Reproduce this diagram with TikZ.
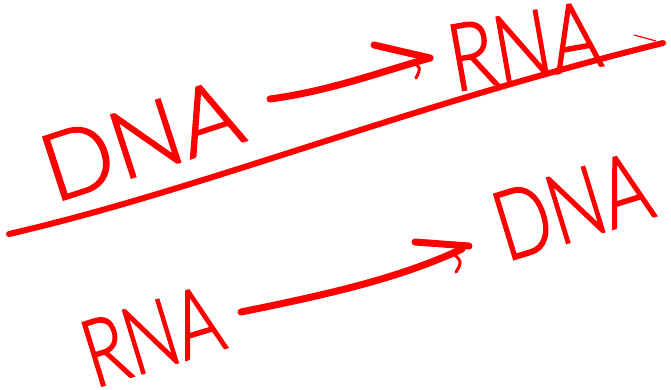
\documentclass[tikz,border=0pt]{standalone}
\usepackage{fontspec}
\newfontfamily\handfont{Lato Light}[FakeBold=2]
\definecolor{ink}{RGB}{255,0,0}
\tikzset{
  pen/.style={draw=ink, line width=7pt, line cap=round, line join=round},
  thinpen/.style={draw=ink, line width=3pt, line cap=round},
  word/.style={text=ink, inner sep=0pt, font=\handfont}
}
\begin{document}
\begin{tikzpicture}[x=1pt,y=-1pt]
\useasboundingbox (0,0) rectangle (671,389);
% words
\node[word, rotate=18] (dnaA) at (141,140) {\resizebox{204pt}{66pt}{DNA}};
\node[word, rotate=10] (rnaA) at (524,46) {\resizebox{152pt}{66pt}{RNA}};
\node[word, rotate=17] (rnaB) at (152,336) {\resizebox{140pt}{66pt}{RNA}};
\node[word, rotate=17] (dnaB) at (572,206) {\resizebox{158pt}{68pt}{DNA}};
% arrow endpoints
\coordinate (a1s) at (270,99);
\coordinate (a1e) at (430,58);
\coordinate (a1b) at (374,45);
\coordinate (a1h) at (413,62);
\coordinate (a1t) at (416,78);
\coordinate (a2s) at (241,312);
\coordinate (a2e) at (469,246);
\coordinate (a2b) at (415,242);
\coordinate (a2h) at (453,253);
\coordinate (a2t) at (456,272);
% dividing line
\coordinate (ls) at (9,234);
\coordinate (le) at (663,43);
\coordinate (ts) at (634,35);
\coordinate (te) at (656,41);
\draw[pen, line width=6pt] (ls) .. controls (200,190) and (400,108) .. (le);
\draw[draw=ink, line width=1.2pt] (ts) -- (te);
% top arrow
\draw[pen] (a1s) .. controls (330,91) and (380,72) .. (a1e);
\draw[pen] (a1b) -- (a1e);
\draw[thinpen] (a1h) .. controls (421,68) .. (a1t);
% bottom arrow
\draw[pen] (a2s) .. controls (330,294) and (400,278) .. (462,249);
\draw[pen] (a2b) -- (a2e);
\draw[thinpen] (a2h) .. controls (462,262) .. (a2t);
\end{tikzpicture}
\end{document}
